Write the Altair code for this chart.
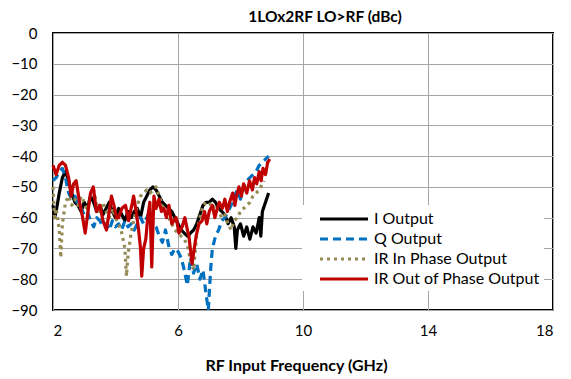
import altair as alt
import pandas as pd

series_names = ["I Output", "Q Output", "IR In Phase Output", "IR Out of Phase Output"]
series_colors = ["#000000", "#0070C0", "#948A54", "#C00000"]
series_dash = [[1, 0], [8, 5], [3, 4], [1, 0]]
series_width = [3.2, 3.2, 3.4, 3.6]

x_ticks = [2, 6, 10, 14, 18]
y_ticks = [0, -10, -20, -30, -40, -50, -60, -70, -80, -90]

i_freq = [2.00, 2.05, 2.10, 2.20, 2.30, 2.40, 2.50, 2.60, 2.70, 2.80, 2.90, 3.00, 3.10, 3.20,
          3.30, 3.40, 3.50, 3.60, 3.70, 3.80, 3.90, 4.00, 4.10, 4.20, 4.30, 4.40, 4.50, 4.60,
          4.70, 4.80, 4.90, 5.00, 5.10, 5.20, 5.30, 5.40, 5.50, 5.60, 5.70, 5.80, 5.90, 6.00,
          6.10, 6.20, 6.30, 6.40, 6.50, 6.60, 6.70, 6.80, 6.90, 7.00, 7.10, 7.20, 7.30, 7.40,
          7.50, 7.60, 7.70, 7.80, 7.85, 7.90, 8.00, 8.10, 8.20, 8.30, 8.40, 8.50, 8.60, 8.65,
          8.70, 8.80, 8.90]
i_val = [-56, -60, -58, -52, -47, -45, -48, -52, -55, -56, -58, -55, -57, -53,
         -55, -58, -56, -59, -57, -55, -58, -60, -57, -59, -61, -58, -60, -58,
         -57, -60, -55, -53, -51, -50, -51, -53, -55, -56, -57, -58, -60, -62,
         -64, -65, -66, -65, -64, -62, -59, -56, -55, -55, -54, -55, -57, -58,
         -59, -62, -60, -63, -70, -64, -62, -66, -63, -67, -63, -65, -60, -66,
         -58, -55, -52]

q_freq = [2.00, 2.10, 2.20, 2.30, 2.40, 2.50, 2.60, 2.70, 2.80, 2.90, 3.00, 3.10, 3.20, 3.30,
          3.40, 3.50, 3.60, 3.70, 3.80, 3.90, 4.00, 4.10, 4.20, 4.30, 4.40, 4.50, 4.60, 4.70,
          4.80, 4.90, 5.00, 5.10, 5.20, 5.30, 5.40, 5.50, 5.60, 5.70, 5.80, 5.90, 6.00, 6.10,
          6.20, 6.30, 6.40, 6.50, 6.60, 6.70, 6.80, 6.90, 6.97, 7.05, 7.10, 7.20, 7.30, 7.40,
          7.50, 7.60, 7.70, 7.80, 7.90, 8.00, 8.10, 8.20, 8.30, 8.40, 8.50, 8.60, 8.70, 8.80,
          8.90]
q_val = [-48, -47, -45, -44, -47, -52, -54, -53, -56, -57, -59, -58, -61, -63,
         -60, -61, -63, -62, -64, -61, -63, -62, -64, -61, -63, -62, -64, -62,
         -60, -62, -60, -58, -62, -63, -66, -68, -64, -69, -72, -70, -71, -73,
         -77, -82, -73, -78, -75, -80, -77, -85, -90, -76, -70, -66, -64, -61,
         -60, -58, -56, -53, -51, -54, -50, -48, -47, -46, -45, -43, -42, -41,
         -40]

irin_freq = [2.00, 2.05, 2.10, 2.20, 2.25, 2.30, 2.40, 2.50, 2.60, 2.70, 2.80, 2.90, 3.00, 3.10,
             3.20, 3.30, 3.40, 3.50, 3.60, 3.70, 3.80, 3.90, 4.00, 4.10, 4.20, 4.30, 4.35, 4.40,
             4.50, 4.60, 4.70, 4.80, 4.90, 5.00, 5.10, 5.20, 5.30, 5.40, 5.50, 5.60, 5.70, 5.80,
             5.90, 6.00, 6.10, 6.20, 6.30, 6.40, 6.50, 6.60, 6.70, 6.80, 6.90, 7.00, 7.10, 7.20,
             7.30, 7.40, 7.50, 7.60, 7.70, 7.80, 7.90, 8.00, 8.10, 8.20, 8.30, 8.40, 8.50, 8.60,
             8.70, 8.75]
irin_val = [-50, -60, -57, -64, -73, -62, -55, -53, -56, -54, -56, -53, -55, -58,
            -53, -51, -56, -58, -55, -58, -60, -57, -60, -62, -65, -70, -79, -72,
            -65, -60, -56, -53, -52, -51, -52, -51, -50, -53, -56, -58, -60, -62,
            -64, -65, -66, -67, -69, -74, -77, -65, -60, -56, -55, -55, -57, -56,
            -58, -60, -59, -62, -64, -61, -60, -58, -57, -56, -55, -53, -52, -51,
            -49, -48]

irout_freq = [2.00, 2.10, 2.20, 2.30, 2.40, 2.50, 2.58, 2.66, 2.74, 2.85, 2.95, 3.03, 3.12, 3.20,
              3.29, 3.39, 3.50, 3.60, 3.71, 3.80, 3.87, 3.95, 4.03, 4.10, 4.20, 4.32, 4.42, 4.50,
              4.58, 4.66, 4.74, 4.80, 4.84, 4.90, 4.97, 5.03, 5.10, 5.16, 5.23, 5.30, 5.39, 5.47,
              5.55, 5.63, 5.71, 5.80, 5.94, 6.03, 6.13, 6.22, 6.30, 6.35, 6.45, 6.52, 6.58, 6.67,
              6.77, 6.85, 6.92, 7.00, 7.10, 7.18, 7.23, 7.32, 7.42, 7.50, 7.58, 7.65, 7.75, 7.82,
              7.87, 7.95, 8.03, 8.10, 8.20, 8.29, 8.38, 8.45, 8.52, 8.60, 8.66, 8.72, 8.80, 8.87,
              8.94]
irout_val = [-43, -46, -43, -42, -43, -47, -53, -49, -48, -55, -60, -65, -58, -52,
             -50, -58, -56, -61, -64, -58, -53, -56, -60, -60, -57, -56, -61, -57,
             -53, -58, -64, -70, -79, -70, -67, -60, -55, -76, -53, -57, -54, -58,
             -57, -60, -56, -62, -60, -65, -63, -60, -64, -66, -75, -70, -66, -62,
             -61, -58, -62, -58, -56, -60, -58, -55, -57, -54, -58, -55, -52, -56,
             -53, -50, -53, -49, -52, -48, -51, -47, -49, -45, -48, -44, -46, -42,
             -41]

frames = []
for name, fr, vals in [
    (series_names[0], i_freq, i_val),
    (series_names[1], q_freq, q_val),
    (series_names[2], irin_freq, irin_val),
    (series_names[3], irout_freq, irout_val),
]:
    frames.append(pd.DataFrame({"series": name, "freq": fr, "value": vals}))
df = pd.concat(frames, ignore_index=True)

FONT = "Lato"

x_enc = alt.X(
    "freq:Q",
    scale=alt.Scale(domain=[2, 18], nice=False, zero=False),
    axis=alt.Axis(values=x_ticks, title="RF Input Frequency (GHz)", labelPadding=13,
                  titlePadding=19, titleX=243, format="d"),
)
y_enc = alt.Y(
    "value:Q",
    scale=alt.Scale(domain=[-90, 0], nice=False),
    axis=alt.Axis(values=y_ticks, title=None, labelPadding=16, format="d"),
)
color_enc = alt.Color(
    "series:N",
    scale=alt.Scale(domain=series_names, range=series_colors),
    legend=alt.Legend(
        title=None, orient="none", legendX=249, legendY=172, fillColor="white",
        padding=4, symbolType="M0.5,0H6.5", symbolSize=256, labelFontSize=16,
        labelFont=FONT, labelColor="black", rowPadding=2, labelOffset=48,
        labelLimit=400,
    ),
)
dash_enc = alt.StrokeDash(
    "series:N", scale=alt.Scale(domain=series_names, range=series_dash), legend=None
)
width_enc = alt.StrokeWidth(
    "series:N", scale=alt.Scale(domain=series_names, range=series_width), legend=None
)

base = alt.Chart(df).mark_line(strokeJoin="round").encode(
    x=x_enc, y=y_enc, color=color_enc, strokeDash=dash_enc, strokeWidth=width_enc
)

layers = [base.transform_filter(alt.datum.series == s) for s in series_names]

chart = alt.layer(*layers).properties(
    width=500,
    height=277,
    background="white",
    title=alt.TitleParams("1LOx2RF LO>RF (dBc)", fontSize=15.5, font=FONT, fontWeight="bold",
                          anchor="middle", offset=1, dx=22, color="black"),
    autosize=alt.AutoSizeParams(type="none"),
    padding={"left": 45, "top": 25, "right": 10, "bottom": 68},
).configure_view(
    stroke="black", strokeWidth=2, fill="white"
).configure_axis(
    grid=True, gridColor="#a6a6a6", gridWidth=1, domain=False, ticks=False,
    labelFont=FONT, labelFontSize=15, labelColor="black",
    titleFont=FONT, titleFontSize=16, titleFontWeight="bold", titleColor="black",
)

chart.save("out.html", embed_options={"renderer": "svg", "actions": False})
